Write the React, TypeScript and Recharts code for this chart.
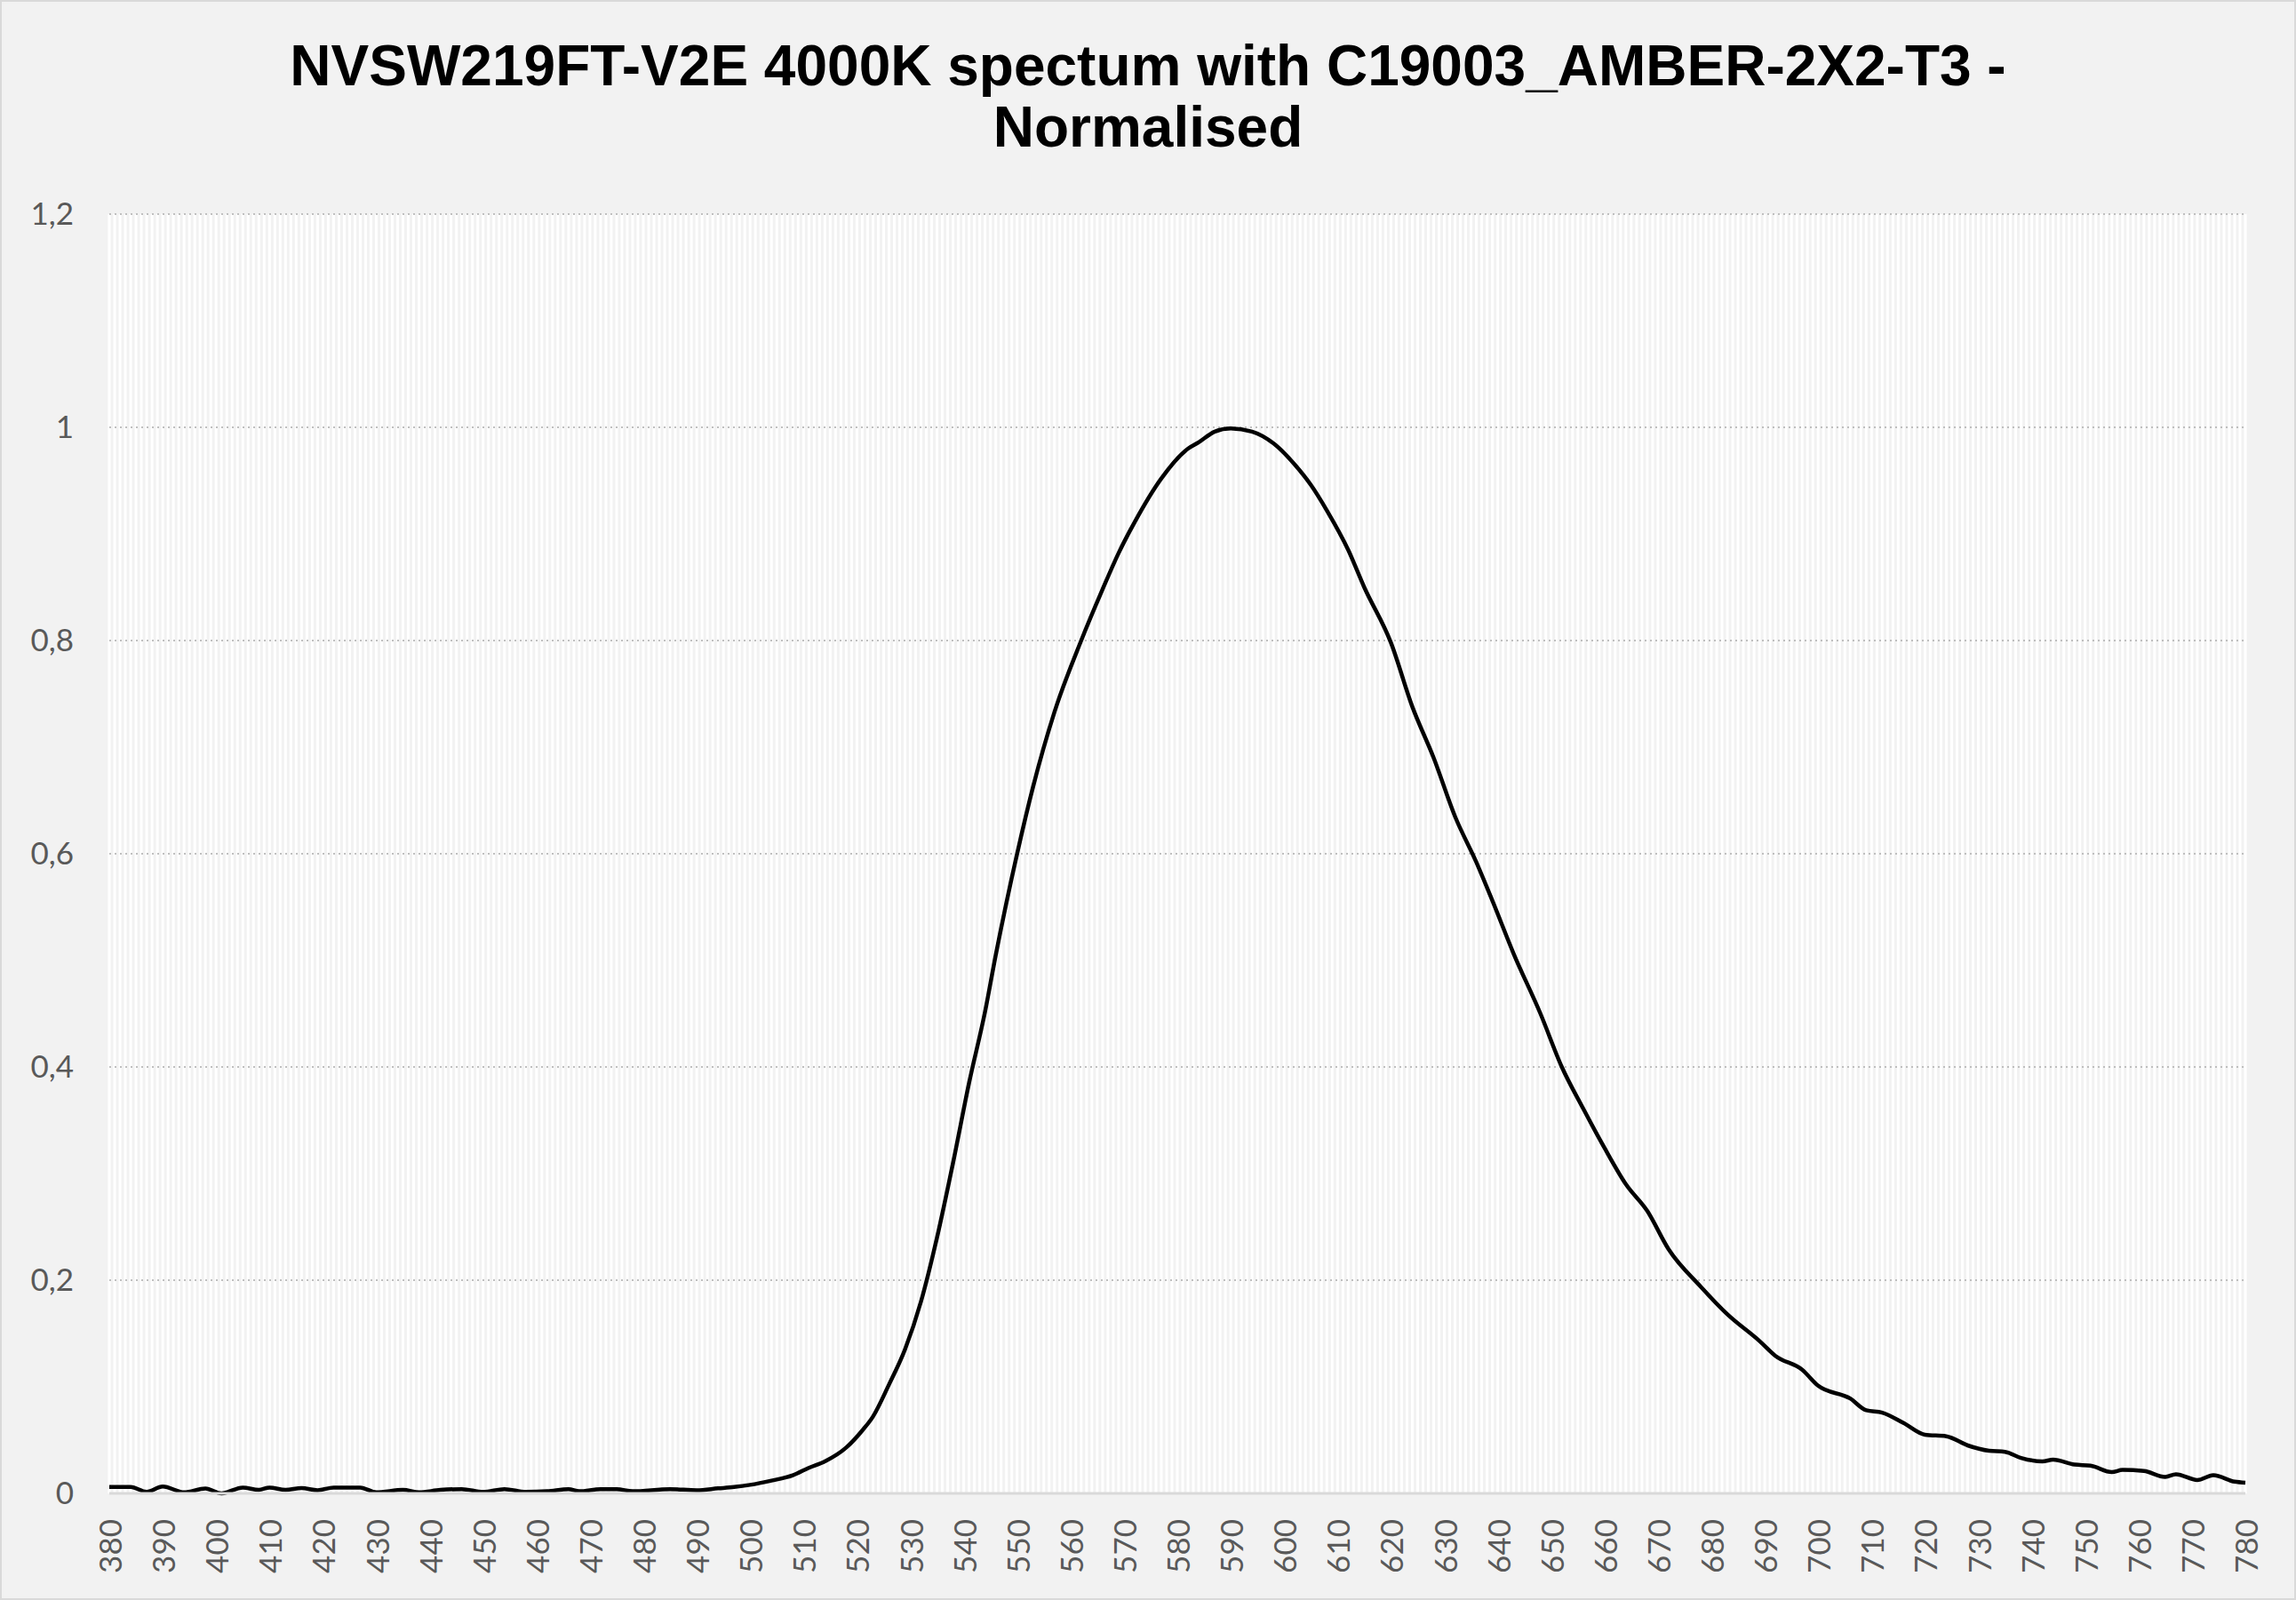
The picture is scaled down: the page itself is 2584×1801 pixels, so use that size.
import React from 'react';
import { LineChart, Line, XAxis, YAxis, CartesianGrid } from 'recharts';

const wavelengths = [
  380, 384, 387, 390, 394, 398, 401, 405, 408, 410, 413, 416, 419, 422, 427, 430, 435, 438, 442, 446,
  450, 454, 458, 462, 466, 468, 472, 475, 478, 485, 490, 494, 497, 500, 504, 508, 511, 514, 518, 521,
  523, 526, 529, 532, 535, 538, 541, 544, 546, 550, 553, 557, 562, 566, 569, 572, 577, 582, 584, 587,
  590, 594, 598, 602, 605, 608, 612, 615, 620, 624, 628, 632, 636, 639, 643, 648, 652, 656, 660, 664,
  668, 672, 678, 683, 689, 692, 697, 700, 706, 709, 712, 716, 720, 724, 728, 732, 735, 738, 742, 744,
  748, 751, 755, 757, 761, 765, 767, 771, 774, 778, 780,
];

const intensity = [
  0.006, 0.006, 0.0015, 0.0065, 0.001, 0.0045, 0.0, 0.0055, 0.0033, 0.0055, 0.0033, 0.005, 0.003, 0.0055, 0.0055, 0.001, 0.0033, 0.001, 0.0033, 0.004,
  0.0014, 0.004, 0.0014, 0.002, 0.004, 0.002, 0.004, 0.004, 0.002, 0.004, 0.003, 0.0047, 0.006, 0.008, 0.012, 0.017, 0.024, 0.03, 0.043, 0.059,
  0.072, 0.102, 0.135, 0.18, 0.24, 0.31, 0.385, 0.452, 0.505, 0.6, 0.663, 0.733, 0.8, 0.848, 0.882, 0.911, 0.952, 0.98, 0.986, 0.996,
  0.999, 0.996, 0.985, 0.965, 0.946, 0.922, 0.885, 0.85, 0.798, 0.738, 0.69, 0.635, 0.592, 0.556, 0.506, 0.45, 0.4, 0.361, 0.324, 0.29,
  0.265, 0.229, 0.194, 0.168, 0.143, 0.129, 0.116, 0.101, 0.089, 0.078, 0.0758, 0.066, 0.055, 0.0536, 0.045, 0.04, 0.039, 0.0333, 0.03, 0.0317,
  0.027, 0.026, 0.02, 0.022, 0.021, 0.0155, 0.018, 0.0125, 0.017, 0.011, 0.01,
];

const xTicks = [
  380, 390, 400, 410, 420, 430, 440, 450, 460, 470, 480, 490, 500, 510, 520, 530, 540, 550, 560, 570,
  580, 590, 600, 610, 620, 630, 640, 650, 660, 670, 680, 690, 700, 710, 720, 730, 740, 750, 760, 770, 780,
];

const yTicks = [0, 0.2, 0.4, 0.6, 0.8, 1, 1.2];

const titleLines = ['NVSW219FT-V2E 4000K spectum with C19003_AMBER-2X2-T3 -', 'Normalised'];

const data = wavelengths.map((w, i) => ({ w, v: intensity[i] }));

// one vertical grid line per nanometre (category gridlines of the original)
const gridWavelengths = Array.from({ length: 401 }, (_, i) => 380 + i);

const verticalGen = (props: any) => {
  const s = props && props.xAxis ? props.xAxis.scale : null;
  if (!s) return [];
  if (typeof s === 'function') return gridWavelengths.map((w) => s(w));
  if (typeof s.map === 'function') return gridWavelengths.map((w) => s.map(w));
  return [];
};

const XTick = (props: any) => {
  const { x, y, payload } = props;
  return (
    <text
      x={x}
      y={y}
      transform={`rotate(-90 ${x} ${y})`}
      textAnchor="end"
      dominantBaseline="central"
      fill="#595959"
      fontSize={35}
      fontFamily="Lato"
    >
      {payload.value}
    </text>
  );
};

const fmtY = (v: number) => String(v).replace('.', ',');

export default function App() {
  return (
    <div
      style={{
        position: 'absolute',
        left: 0,
        top: 0,
        width: 2584,
        height: 1801,
        background: '#f2f2f2',
        boxSizing: 'border-box',
        border: '2px solid #d9d9d9',
        overflow: 'hidden',
      }}
    >
      <div
        style={{
          position: 'absolute',
          left: -2,
          top: 38,
          width: 2584,
          textAlign: 'center',
          fontFamily: '"Liberation Sans", Arial, sans-serif',
          fontWeight: 'bold',
          fontSize: 64,
          lineHeight: '69px',
          color: '#000',
        }}
      >
        {titleLines[0]}
        <br />
        {titleLines[1]}
      </div>
      <div style={{ position: 'absolute', left: -2, top: -2 }}>
        <LineChart
          width={2584}
          height={1801}
          data={data}
          margin={{ top: 241, right: 57, bottom: 0, left: 0 }}
        >
          <CartesianGrid
            horizontal={false}
            vertical
            verticalCoordinatesGenerator={verticalGen}
            stroke="#ffffff"
            strokeWidth={3}
          />
          <CartesianGrid
            vertical={false}
            horizontal
            stroke="#bfbfbf"
            strokeWidth={2}
            strokeDasharray="2 4"
          />
          <XAxis
            dataKey="w"
            type="number"
            domain={[380, 780]}
            ticks={xTicks}
            interval={0}
            height={120}
            tickSize={0}
            tickMargin={29}
            tickLine={false}
            axisLine={{ stroke: '#d9d9d9', strokeWidth: 3 }}
            tick={<XTick />}
          />
          <YAxis
            type="number"
            domain={[0, 1.2]}
            ticks={yTicks}
            width={123}
            tickSize={0}
            tickMargin={40}
            tickLine={false}
            axisLine={false}
            tickFormatter={fmtY}
            tick={{ fill: '#595959', fontSize: 35, fontFamily: 'Lato' }}
          />
          <Line
            type="monotone"
            dataKey="v"
            stroke="#000000"
            strokeWidth={4.5}
            dot={false}
            isAnimationActive={false}
          />
        </LineChart>
      </div>
    </div>
  );
}
